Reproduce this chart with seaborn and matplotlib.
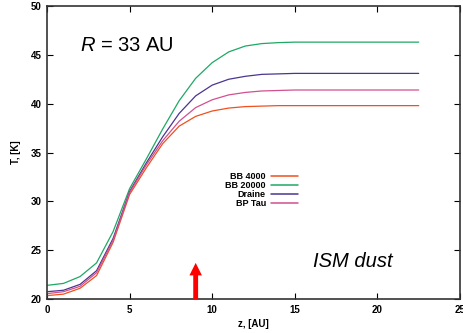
import matplotlib
matplotlib.use("Agg")
import matplotlib.pyplot as plt
import seaborn as sns
import pandas as pd
import numpy as np

# 数据 (读自参考图)
z = [0, 1, 2, 3, 4, 5, 6, 7, 8, 9, 10, 11, 12, 13, 14, 15, 16, 17, 18, 19, 20, 21, 22, 22.5]
bb4000 = [20.35, 20.5, 21.1, 22.4, 25.8, 30.7, 33.4, 35.9, 37.7, 38.7, 39.25, 39.55, 39.7, 39.75,
          39.8, 39.8, 39.8, 39.8, 39.8, 39.8, 39.8, 39.8, 39.8, 39.8]
bb20000 = [21.4, 21.6, 22.3, 23.7, 26.9, 31.3, 34.3, 37.4, 40.3, 42.6, 44.2, 45.3, 45.9, 46.15,
           46.25, 46.3, 46.3, 46.3, 46.3, 46.3, 46.3, 46.3, 46.3, 46.3]
draine = [20.75, 20.9, 21.5, 22.9, 26.2, 31.0, 33.9, 36.6, 39.0, 40.8, 41.9, 42.5, 42.8, 43.0,
          43.05, 43.1, 43.1, 43.1, 43.1, 43.1, 43.1, 43.1, 43.1, 43.1]
bptau = [20.55, 20.75, 21.3, 22.7, 26.0, 30.9, 33.7, 36.2, 38.2, 39.6, 40.4, 40.9, 41.15, 41.3,
         41.35, 41.4, 41.4, 41.4, 41.4, 41.4, 41.4, 41.4, 41.4, 41.4]
labels = ['BB 4000', 'BB 20000', 'Draine', 'BP Tau']
colors = ['#f0501e', '#1fa865', '#4a3590', '#d2508e']
arrow_z = 9
arrow_top = 23.7

df = pd.DataFrame({'z': z * 4,
                   'T': bb4000 + bb20000 + draine + bptau,
                   'model': np.repeat(labels, len(z))})

sns.set_style('ticks')
plt.rcParams['font.family'] = ['Liberation Sans', 'DejaVu Sans']
plt.rcParams['mathtext.fontset'] = 'custom'
plt.rcParams['mathtext.it'] = 'Liberation Sans:italic'
plt.rcParams['mathtext.rm'] = 'Liberation Sans'
for k in ['text.color', 'axes.labelcolor', 'xtick.color', 'ytick.color']:
    plt.rcParams[k] = 'black'

fig = plt.figure(figsize=(4.63, 3.33), dpi=100)
ax = fig.add_axes([0.1015, 0.102, 0.892, 0.88])

sns.lineplot(data=df, x='z', y='T', hue='model', palette=dict(zip(labels, colors)),
             linewidth=0.9, ax=ax, legend=False)

# 图例: 标签在左, 线在右 (gnuplot 风格)
handles = [plt.Line2D([], [], color=c, lw=1.1) for c in colors]
leg = ax.legend(handles, labels, loc='upper left', bbox_to_anchor=(0.412, 0.462),
                frameon=False, markerfirst=False, handlelength=3.0, handletextpad=0.6,
                labelspacing=0.0, prop={'size': 6.5, 'weight': 'bold'})

# 红色箭头
ax.annotate('', xy=(arrow_z, arrow_top), xytext=(arrow_z, 20),
            arrowprops=dict(arrowstyle='simple,head_width=0.9,head_length=0.9,tail_width=0.35',
                            color='red', lw=0, shrinkA=0, shrinkB=0))

ax.text(0.08, 0.865, r'$R$ = 33 AU', transform=ax.transAxes, fontsize=14.5, va='center')
ax.text(0.643, 0.127, 'ISM dust', transform=ax.transAxes, fontsize=14.5, va='center',
        style='italic')

ax.set_xlim(0, 25)
ax.set_ylim(20, 50)
ax.set_xticks([0, 5, 10, 15, 20, 25])
ax.set_yticks([20, 25, 30, 35, 40, 45, 50])
ax.tick_params(direction='in', length=4, width=0.8, top=True, right=True,
               labelsize=7, pad=4)
for t in ax.get_xticklabels() + ax.get_yticklabels():
    t.set_fontweight('bold')
for s in ax.spines.values():
    s.set_visible(True)
    s.set_linewidth(1.2)
    s.set_color('#333333')

ax.set_xlabel('z, [AU]', fontsize=7, fontweight='bold', labelpad=3)
ax.set_ylabel('T, [K]', fontsize=7, fontweight='bold', labelpad=7)

fig.savefig('out.png', dpi=100)
